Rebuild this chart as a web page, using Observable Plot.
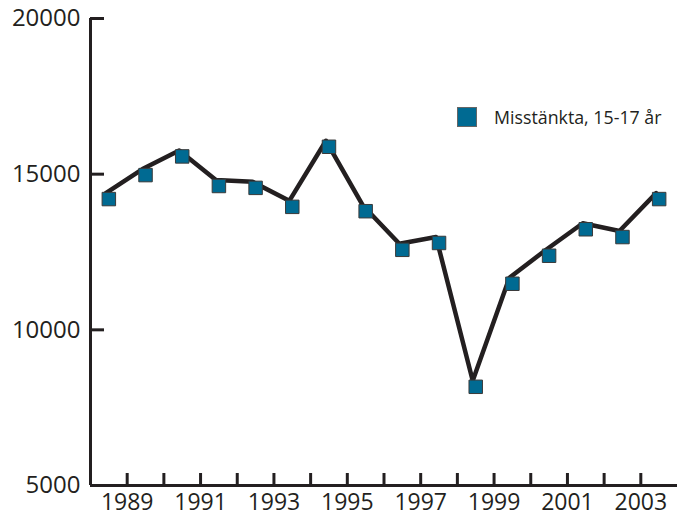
<!DOCTYPE html>
<html><head><meta charset="utf-8">
<script src="https://cdn.jsdelivr.net/npm/d3@7"></script>
<script src="https://cdn.jsdelivr.net/npm/@observablehq/plot@0.6"></script>
<style>
body{margin:0;background:#fff;}
#wrap{position:relative;width:677px;height:516px;}
#legend{position:absolute;left:457px;top:107px;display:flex;align-items:center;font-family:"Open Sans";font-size:17.8px;line-height:20px;color:#231f20;}
#legend .sw{display:inline-block;width:18px;height:18px;background:#006a92;border:1px solid #666;margin-right:17px;}
</style></head><body><div id="wrap"><div id="legend"><span class="sw"></span><span>Misstänkta, 15-17 år</span></div></div>
<script>
const years = [1988,1989,1990,1991,1992,1993,1994,1995,1996,1997,1998,1999,2000,2001,2002,2003];
const suspects = [14200,14970,15570,14620,14560,13950,15880,13810,12570,12790,8170,11480,12380,13230,12980,14200];
const yTicks = [5000,10000,15000,20000];
const xTickYears = [1989,1990,1991,1992,1993,1994,1995,1996,1997,1998,1999,2000,2001,2002,2003];
const xTickLabels = ["1989","1991","1993","1995","1997","1999","2001","2003"];

const data = years.map((year, i) => ({year, value: suspects[i]}));
const ink = "#231f20";

const chart = Plot.plot({
  width: 677, height: 516,
  marginLeft: 90, marginRight: 0, marginTop: 18, marginBottom: 31,
  style: {fontFamily: "Open Sans", fontSize: "23px", color: ink, background: "white"},
  x: {domain: [1988, 2004]},
  y: {domain: [5000, 20000]},
  marks: [
    Plot.axisY(yTicks, {tickSize: -14, tickPadding: 24, strokeWidth: 3, label: null, fontSize: 24, tickFormat: d => String(d)}),
    Plot.axisX(xTickYears, {tickSize: -12, tickPadding: 20, strokeWidth: 3, label: null, fontSize: 23,
      tickFormat: d => xTickLabels.includes(String(d)) ? String(d) : ""}),
    Plot.ruleY([5000], {stroke: ink, strokeWidth: 3}),
    Plot.ruleX([1988], {y1: 5000, y2: 20000, stroke: ink, strokeWidth: 3}),
    Plot.line(data, {x: d => d.year + 0.5, y: "value", stroke: ink, strokeWidth: 4.5, dx: -3, dy: -6}),
    Plot.dot(data, {x: d => d.year + 0.5, y: "value", symbol: "square", r: 7.6, fill: "#006a92", stroke: "#3a3a3a", strokeWidth: 1})
  ]
});
document.getElementById("wrap").prepend(chart);
</script>
</body></html>
